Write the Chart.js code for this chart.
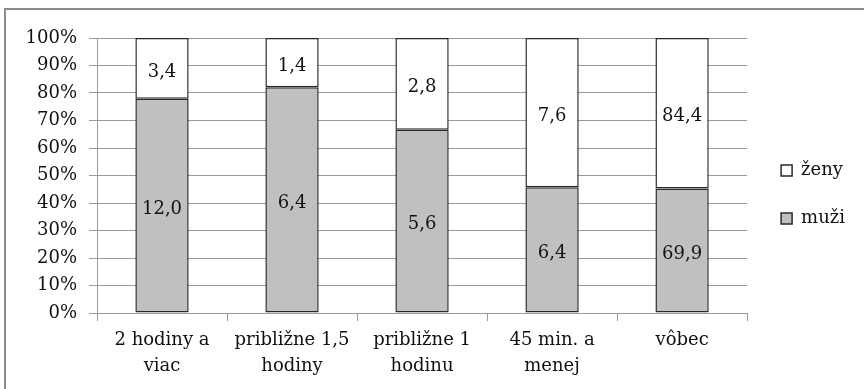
<!DOCTYPE html>
<html>
<head>
<meta charset="utf-8">
<script src="https://cdn.jsdelivr.net/npm/chart.js@4/dist/chart.umd.min.js"></script>
<style>
  html, body { margin: 0; padding: 0; background: #fff; }
  #wrap { position: relative; width: 864px; height: 389px; overflow: hidden; }
  #frame { position: absolute; left: 4px; top: 8px; width: 900px; height: 400px;
           border-top: 2px solid #8c8c8c; border-left: 2px solid #8c8c8c; box-sizing: border-box; }
  canvas { position: absolute; left: 0; top: 0; }
</style>
</head>
<body>
<div id="wrap">
  <div id="frame"></div>
  <canvas id="c" width="864" height="389"></canvas>
</div>
<script>
// ---- data ----
const categories = [["2 hodiny a", "viac"], ["približne 1,5", "hodiny"], ["približne 1", "hodinu"], ["45 min. a", "menej"], ["vôbec"]];
const muzi = [12.0, 6.4, 5.6, 6.4, 69.9];
const zeny = [3.4, 1.4, 2.8, 7.6, 84.4];
const yTicks = [0, 10, 20, 30, 40, 50, 60, 70, 80, 90, 100];

// 100% shares built from the values
const muziPct = muzi.map((v, i) => v / (v + zeny[i]) * 100);
const zenyPct = zeny.map((v, i) => v / (muzi[i] + v) * 100);

const FONT = "'DejaVu Serif', serif";
const TXT = '#111';
const fmt = v => v.toFixed(1).replace('.', ',');

const valueLabels = {
  id: 'valueLabels',
  afterDatasetsDraw(chart) {
    const ctx = chart.ctx;
    ctx.save();
    ctx.font = "18px " + FONT;
    ctx.fillStyle = TXT;
    ctx.textAlign = 'center';
    ctx.textBaseline = 'middle';
    chart.data.datasets.forEach((ds, di) => {
      const meta = chart.getDatasetMeta(di);
      meta.data.forEach((bar, i) => {
        const raw = ds.rawValues[i];
        const y = (bar.y + bar.base) / 2;
        ctx.fillText(fmt(raw), bar.x, y + 3.5);
      });
    });
    ctx.restore();
  }
};

// center the legend on the full canvas height, nudge it right a little
const legendFullHeight = {
  id: 'legendFullHeight',
  afterLayout(chart) {
    const l = chart.legend;
    if (!l) return;
    l.top = 0;
    l.bottom = chart.height;
    l.height = chart.height;
    l.left += 4;
    l.right += 4;
  }
};

new Chart(document.getElementById('c'), {
  type: 'bar',
  data: {
    labels: categories,
    datasets: [
      { label: 'muži', data: muziPct, rawValues: muzi, backgroundColor: '#c0c0c0', borderColor: '#2a2a2a', borderWidth: 1.5, borderSkipped: false },
      { label: 'ženy', data: zenyPct, rawValues: zeny, backgroundColor: '#ffffff', borderColor: '#2a2a2a', borderWidth: 1.5, borderSkipped: false }
    ]
  },
  options: {
    responsive: false,
    animation: false,
    layout: { padding: { left: 0, top: 38, right: 13, bottom: 0 } },
    datasets: { bar: { barPercentage: 0.41, categoryPercentage: 1.0 } },
    plugins: {
      legend: {
        position: 'right',
        reverse: true,
        labels: {
          font: { family: FONT, size: 18 },
          color: TXT,
          boxWidth: 11,
          boxHeight: 11,
          padding: 30
        }
      },
      tooltip: { enabled: false }
    },
    scales: {
      x: {
        stacked: true,
        grid: { display: true, drawOnChartArea: false, drawTicks: true, tickLength: 8, color: '#9a9a9a', offset: true },
        border: { display: false },
        ticks: { font: { family: FONT, size: 18, lineHeight: 1.45 }, color: TXT, padding: 6, maxRotation: 0, autoSkip: false },
        afterFit(s) { s.height = 76; }
      },
      y: {
        stacked: true,
        min: 0, max: 100,
        afterBuildTicks(s) { s.ticks = yTicks.map(v => ({ value: v })); },
        grid: { color: '#9a9a9a', tickLength: 8 },
        border: { display: true, color: '#9a9a9a' },
        ticks: { font: { family: FONT, size: 18 }, color: TXT, padding: 12, callback: v => v + '%' },
        afterFit(s) { s.width = 97; }
      }
    }
  },
  plugins: [valueLabels, legendFullHeight]
});
</script>
</body>
</html>
